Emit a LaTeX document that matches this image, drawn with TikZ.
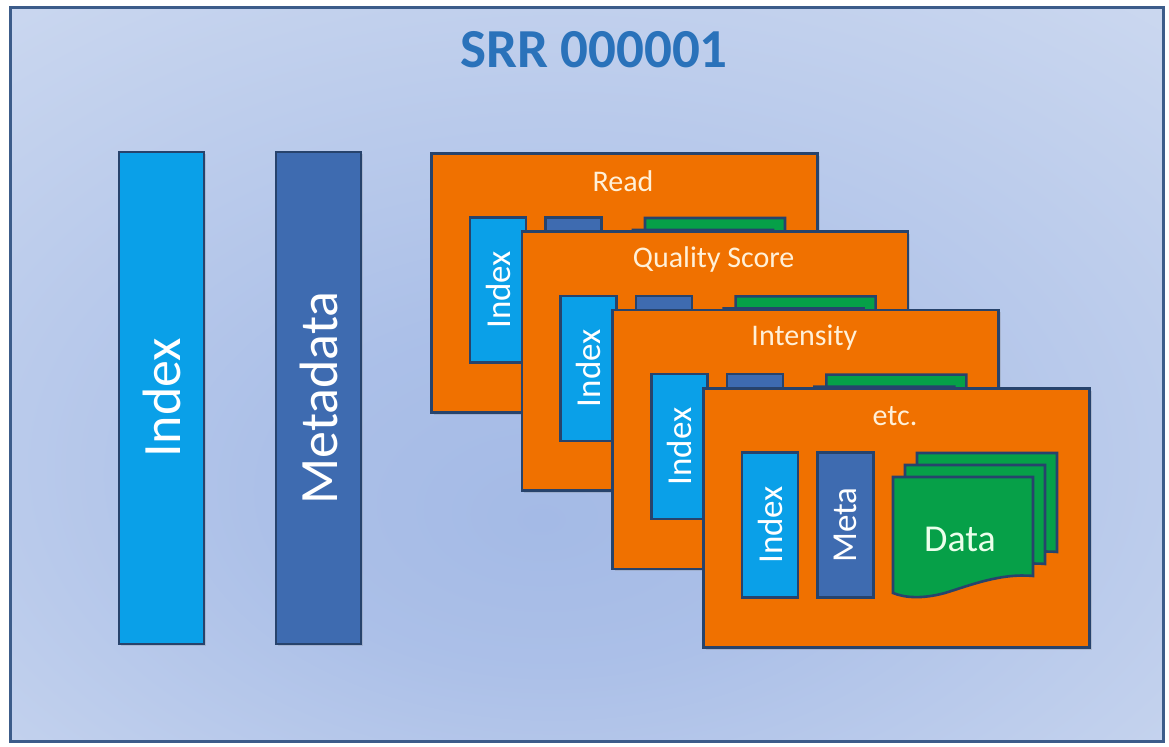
\documentclass[tikz,border=0pt]{standalone}
\usepackage{fontspec}
\setmainfont{Carlito}
\usepackage{xcolor}
\usetikzlibrary{positioning, calc, shadows}

\definecolor{navy}{HTML}{27436C}
\definecolor{framecol}{HTML}{3C5C8A}
\definecolor{titleblue}{HTML}{2A72BA}
\definecolor{idxblue}{HTML}{0AA0E8}
\definecolor{metablue}{HTML}{3E6BB0}
\definecolor{cardorange}{HTML}{F07100}
\definecolor{datagreen}{HTML}{06A048}
\definecolor{cream}{HTML}{FFF0D8}
\definecolor{bginner}{HTML}{A4BAE6}
\definecolor{bgouter}{HTML}{D6E0F2}

\pgfdeclareradialshading{bgshade}{\pgfpoint{-2bp}{-10bp}}{%
  color(0bp)=(bginner); color(12bp)=(bginner!85!bgouter); color(48bp)=(bgouter); color(60bp)=(bgouter)}

\begin{document}
\begin{tikzpicture}[
  x=0.5pt, y=-0.5pt,
  shade1/.style={drop shadow={shadow xshift=1.2pt, shadow yshift=-1.2pt, opacity=.25}},
  bigbar/.style={rectangle, draw=navy, line width=1.3pt, inner sep=0pt, minimum width=42.5pt, minimum height=246pt, shade1},
  bigtext/.style={rotate=90, text=white, font=\fontsize{27}{30}\selectfont},
  card/.style={rectangle, draw=navy, line width=1.3pt, fill=cardorange, inner sep=0pt, anchor=north west,
    minimum width=193pt, minimum height=129.5pt, shade1},
  cardtitle/.style={text=cream, font=\fontsize{15}{17}\selectfont},
  smallbar/.style={rectangle, draw=navy, line width=1.3pt, inner sep=0pt, minimum width=28pt, minimum height=72.5pt},
  smalltext/.style={rotate=90, text=white, font=\fontsize{17.5}{20}\selectfont},
  page/.style={draw=navy, line width=1.3pt, fill=datagreen},
  title/.style={text=titleblue, font=\fontsize{27.5}{30}\selectfont\bfseries}
]
\useasboundingbox (0,0) rectangle (1169,747);

% background frame
\shade[shading=bgshade] (10,8) rectangle (1163,742);
\draw[framecol, line width=1.5pt] (10,8) rectangle (1163,742);

\node[title] (srr) at (594,50) {SRR 000001};

% run level index and metadata
\node[bigbar, fill=idxblue] (index) at (161.5,398) {};
\node[bigtext] (indexlbl) at (index) {Index};
\node[bigbar, fill=metablue] (meta) at (318.5,398) {};
\node[bigtext] (metalbl) at (meta) {Metadata};

% stacked read cards
\foreach \i/\name in {0/Read, 1/Quality Score, 2/Intensity, 3/etc.} {
  \node[card] (card\i) at (430+90.67*\i, 152+78.33*\i) {};
  \node[cardtitle] (cardttl\i) at ($(card\i.north west)+(193,29)$) {\name};
  \node[smallbar, fill=idxblue] (cidx\i) at ($(card\i.north west)+(68,138)$) {};
  \node[smalltext] (cidxlbl\i) at (cidx\i) {Index};
  \node[smallbar, fill=metablue] (cmeta\i) at ($(card\i.north west)+(143.5,138)$) {};
  \foreach \p in {2,1,0} {
    \begin{scope}[shift={($(card\i.north west)+(191+12*\p,90-12*\p)$)}]
      \draw[page] (0,0) -- (140,0) -- (140,99)
        .. controls (108,96) and (78,108) .. (52,116)
        .. controls (30,122) and (12,121) .. (0,116) -- cycle;
    \end{scope}
  }
}
\node[smalltext] (cmetalbl) at (cmeta3) {Meta};
\node[text=green!8, font=\fontsize{19}{22}\selectfont] (datalbl) at ($(card3.north west)+(258,152)$) {Data};
\end{tikzpicture}
\end{document}
